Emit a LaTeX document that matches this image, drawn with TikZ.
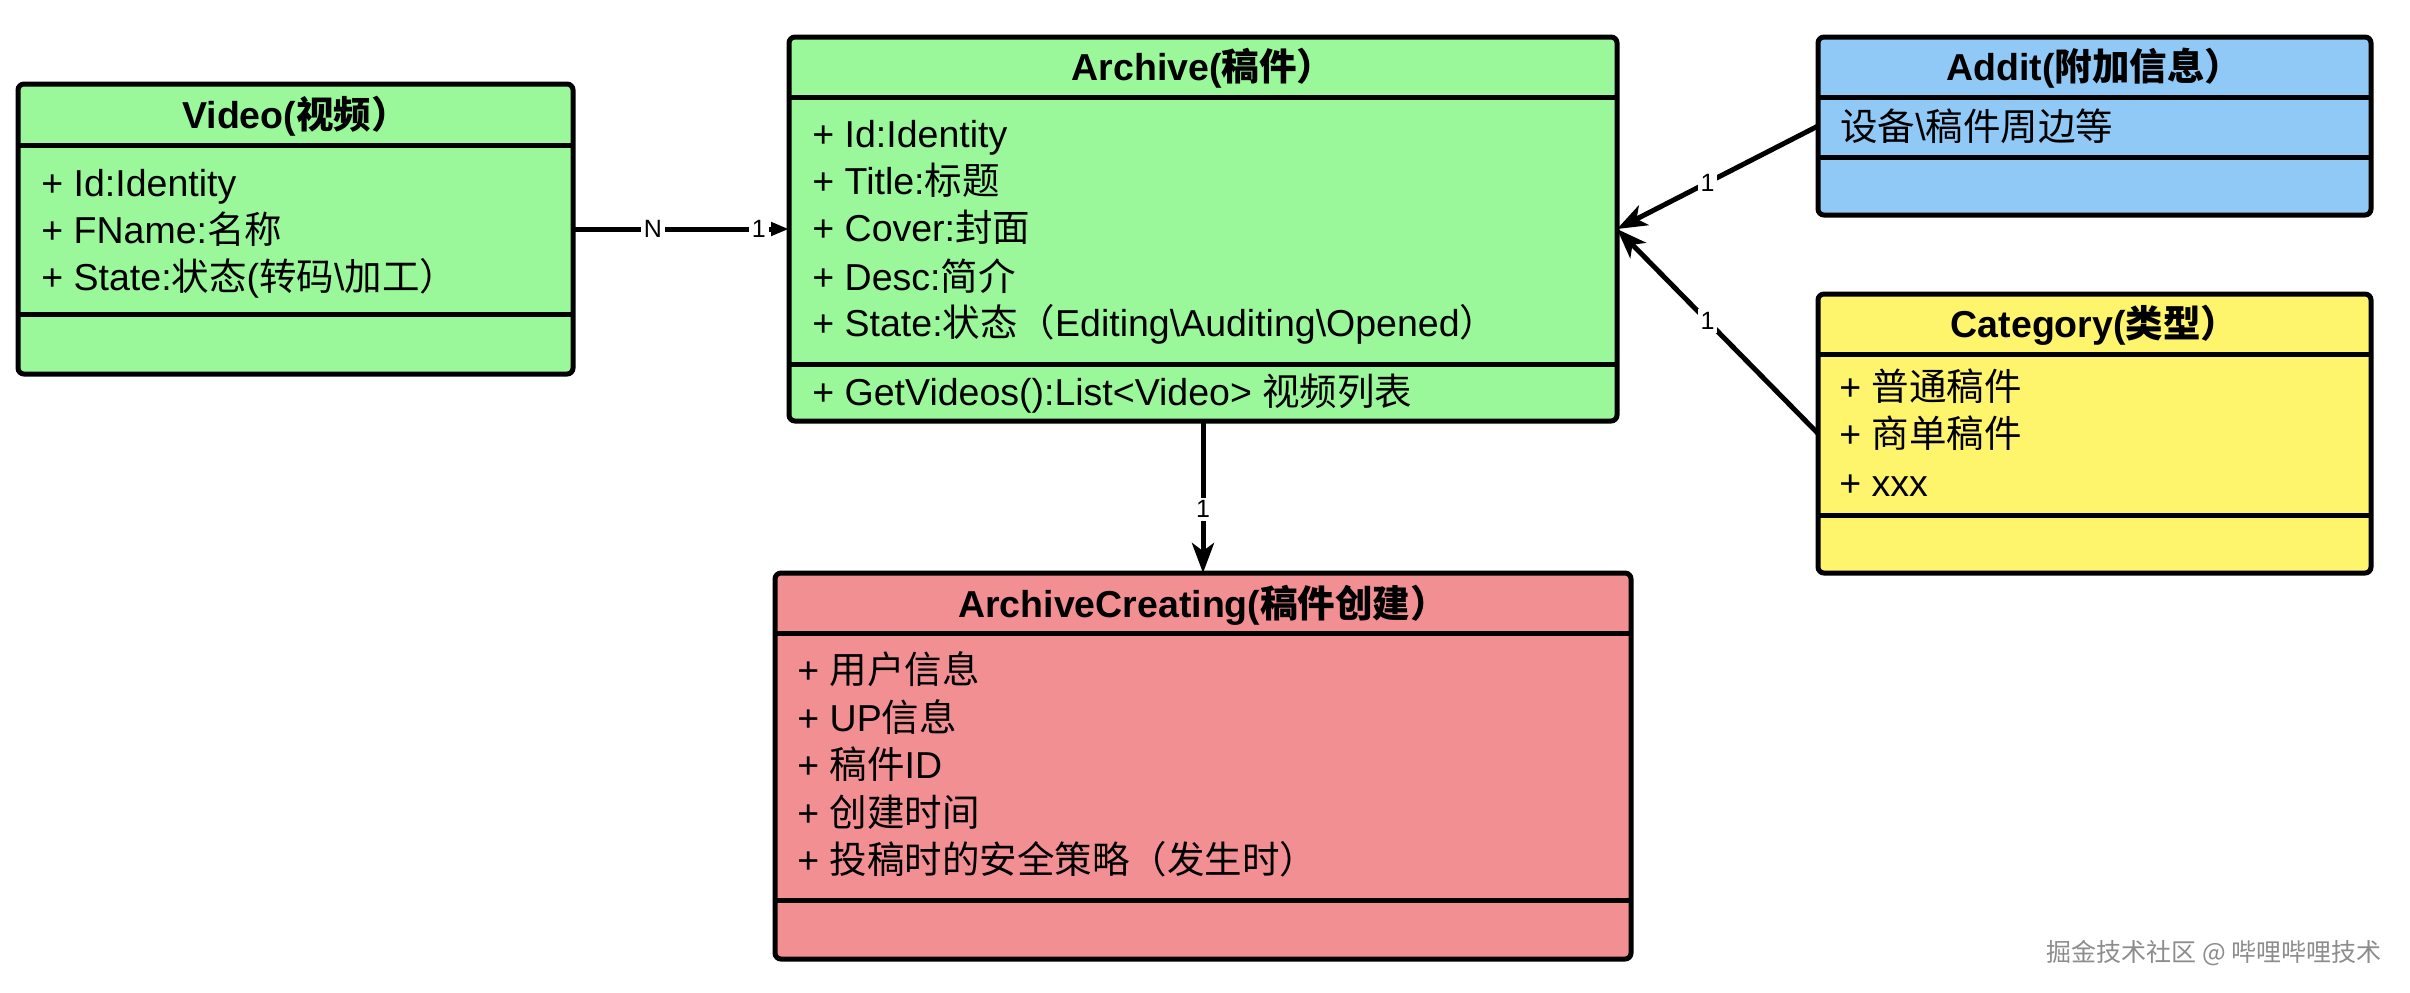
\documentclass[tikz,border=0pt]{standalone}
\usepackage{fontspec}
\setmainfont{Liberation Sans}
\newfontfamily\cjkfont{Noto Sans CJK SC}
\newcommand\C[1]{{\cjkfont #1}}
\usetikzlibrary{arrows.meta}
\definecolor{cgreen}{RGB}{154,248,154}
\definecolor{cblue}{RGB}{144,200,246}
\definecolor{cyellow}{RGB}{255,245,108}
\definecolor{cred}{RGB}{242,143,147}
\definecolor{cgray}{RGB}{140,140,140}
\begin{document}
\begin{tikzpicture}[x=0.5pt,y=-0.5pt,
  cls/.style={draw=black, line width=2.5pt, rounded corners=3pt, inner sep=0pt, outer sep=0pt},
  div/.style={line width=2.5pt},
  ctitle/.style={anchor=base, inner sep=0pt, font=\fontsize{18.75pt}{22pt}\selectfont\bfseries},
  crow/.style={anchor=base west, inner sep=0pt, font=\fontsize{18.75pt}{22pt}\selectfont},
  conn/.style={line width=2.5pt},
  bigtip/.style={-{Stealth[length=15pt,width=11pt,inset=4pt]}},
  lbl/.style={fill=white, inner sep=1.5pt, font=\fontsize{12.5pt}{14pt}\selectfont},
  ]
\useasboundingbox (0,0) rectangle (2410,992);

% ---------- Video ----------
\node[cls, fill=cgreen, minimum width=277.5pt, minimum height=145pt] (video) at (295.5,229) {};
\draw[div] (18,145) -- (573,145);
\draw[div] (18,314) -- (573,314);
\node[ctitle] (videoT) at (295.5,128) {Video(\C{视频）}};
\node[crow] (videoR1) at (41,196) {+ Id:Identity};
\node[crow] (videoR2) at (41,243) {+ FName:\C{名称}};
\node[crow] (videoR3) at (41,290) {+ State:\C{状态}(\C{转码}\textbackslash\C{加工）}};

% ---------- Archive ----------
\node[cls, fill=cgreen, minimum width=414pt, minimum height=192pt] (archive) at (1203,229) {};
\draw[div] (789,97) -- (1617,97);
\draw[div] (789,364) -- (1617,364);
\node[ctitle] (archiveT) at (1203,80) {Archive(\C{稿件）}};
\node[crow] (archiveR1) at (812,147) {+ Id:Identity};
\node[crow] (archiveR2) at (812,194) {+ Title:\C{标题}};
\node[crow] (archiveR3) at (812,241) {+ Cover:\C{封面}};
\node[crow] (archiveR4) at (812,290) {+ Desc:\C{简介}};
\node[crow] (archiveR5) at (812,336) {+ State:\C{状态（}Editing\textbackslash Auditing\textbackslash Opened\C{）}};
\node[crow] (archiveM1) at (812,405) {+ GetVideos():List<Video> \C{视频列表}};

% ---------- Addit ----------
\node[cls, fill=cblue, minimum width=276.5pt, minimum height=89pt] (addit) at (2094.5,126) {};
\draw[div] (1818,97) -- (2371,97);
\draw[div] (1818,157) -- (2371,157);
\node[ctitle] (additT) at (2094.5,80) {Addit(\C{附加信息）}};
\node[crow] (additR1) at (1840,140) {\C{设备}\textbackslash\C{稿件周边等}};

% ---------- Category ----------
\node[cls, fill=cyellow, minimum width=276.5pt, minimum height=139.5pt] (category) at (2094.5,433.5) {};
\draw[div] (1818,354) -- (2371,354);
\draw[div] (1818,515) -- (2371,515);
\node[ctitle] (categoryT) at (2094.5,337) {Category(\C{类型）}};
\node[crow] (categoryR1) at (1839,400) {+ \C{普通稿件}};
\node[crow] (categoryR2) at (1839,447) {+ \C{商单稿件}};
\node[crow] (categoryR3) at (1839,496) {+ xxx};

% ---------- ArchiveCreating ----------
\node[cls, fill=cred, minimum width=428pt, minimum height=193pt] (ac) at (1203,766) {};
\draw[div] (775,633) -- (1631,633);
\draw[div] (775,900) -- (1631,900);
\node[ctitle] (acT) at (1203,617) {ArchiveCreating(\C{稿件创建）}};
\node[crow] (acR1) at (797,683) {+ \C{用户信息}};
\node[crow] (acR2) at (797,731) {+ UP\C{信息}};
\node[crow] (acR3) at (797,778) {+ \C{稿件}ID};
\node[crow] (acR4) at (797,826) {+ \C{创建时间}};
\node[crow] (acR5) at (797,873) {+ \C{投稿时的安全策略（发生时）}};

% ---------- Connectors ----------
\draw[conn, -{Triangle[length=9pt,width=6.5pt]}] (video.east) -- node[lbl, pos=0.37] {N} node[lbl, pos=0.86] {1} (archive.west);
\draw[conn, bigtip] (addit.west) -- node[lbl, pos=0.55] {1} (archive.east);
\draw[conn, bigtip] (category.west) -- node[lbl, pos=0.55] {1} (archive.east);
\draw[conn, bigtip] (archive.south) -- node[lbl, pos=0.58] {1} (ac.north);

% ---------- Watermark ----------
\node[anchor=base east, inner sep=0pt, text=cgray, font=\fontsize{12.5pt}{14pt}\selectfont] (wm) at (2382,961) {\C{掘金技术社区 @ 哔哩哔哩技术}};
\end{tikzpicture}
\end{document}
